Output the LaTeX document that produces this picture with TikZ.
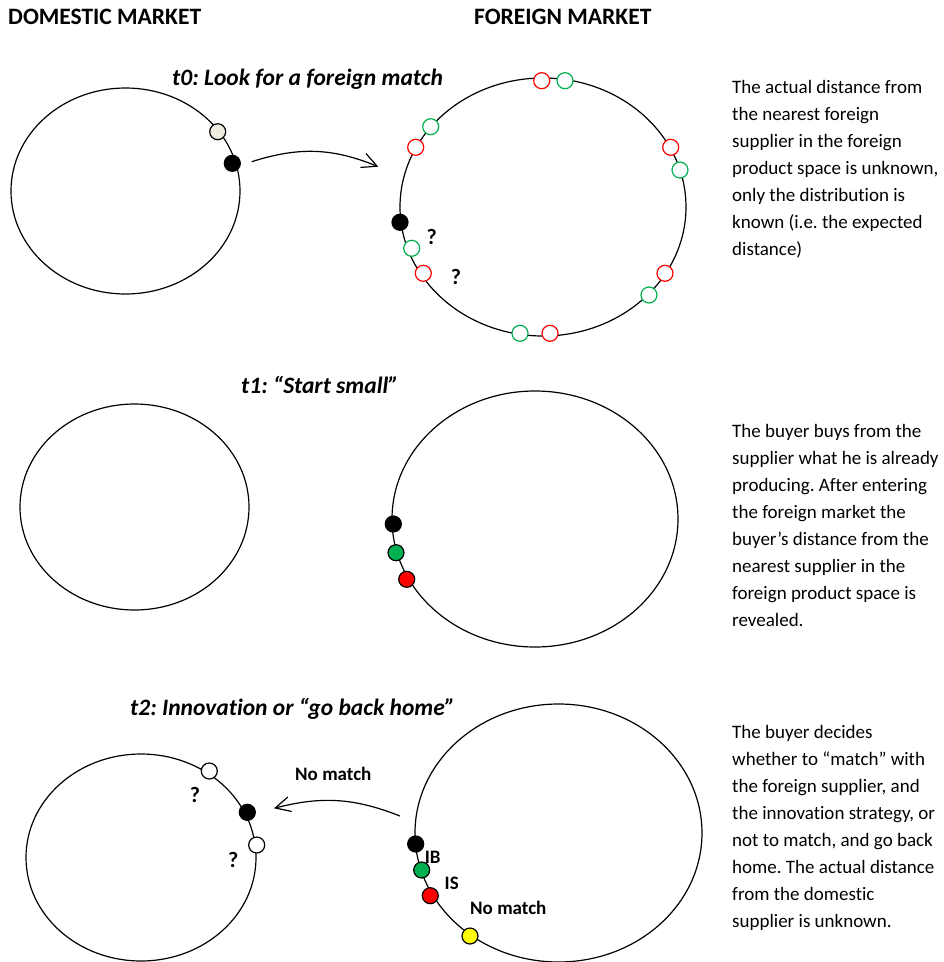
\documentclass[tikz,border=0pt]{standalone}
\usepackage{fontspec}
\setmainfont{Carlito}[Ligatures=NoCommon]
\usetikzlibrary{shapes.geometric,arrows.meta}
\definecolor{dgreen}{HTML}{00B050}
\definecolor{dred}{HTML}{FF0000}
\definecolor{dyellow}{HTML}{FFFF00}
\definecolor{lightdot}{HTML}{EEECE1}
\frenchspacing
\begin{document}
\begin{tikzpicture}[x=1pt,y=-1pt,
  market/.style={draw, line width=1.2pt, ellipse, inner sep=0pt},
  dot/.style={draw, circle, line width=1.2pt, minimum size=16pt, inner sep=0pt},
  hdr/.style={font=\fontsize{23.5}{28}\selectfont\bfseries, inner sep=0pt, anchor=base west},
  steptitle/.style={font=\fontsize{23.5}{28}\selectfont\bfseries\itshape, inner sep=0pt, anchor=base west},
  lbl/.style={font=\fontsize{19}{23}\selectfont\bfseries, inner sep=0pt},
  qmark/.style={font=\fontsize{22}{26}\selectfont\bfseries, inner sep=0pt},
  para/.style={font=\fontsize{19}{27}\selectfont, align=left, inner sep=0pt, anchor=north west},
  conn/.style={line width=1.2pt, -{Straight Barb[length=15pt,width=15pt,line width=1.2pt]}}
]
\useasboundingbox (0,0) rectangle (944,962);

% headers
\node[hdr] (hdom) at (8,24) {DOMESTIC MARKET};
\node[hdr] (hfor) at (474,24) {FOREIGN MARKET};

% t0
\node[steptitle] (t0) at (172,85) {t0: Look for a foreign match};
\node[market, minimum width=229pt, minimum height=206pt] (d0) at (125.5,191) {};
\node[market, minimum width=286pt, minimum height=258pt] (f0) at (543,207) {};
\node[dot, fill=lightdot] (d0a) at (217.7,131.7) {};
\node[dot, fill=black] (d0b) at (232.3,163.3) {};
\node[dot, draw=dred, fill=white] (f0r1) at (541.7,80.7) {};
\node[dot, draw=dgreen, fill=white] (f0g1) at (565,80.7) {};
\node[dot, draw=dgreen, fill=white] (f0g2) at (430.7,126.7) {};
\node[dot, draw=dred, fill=white] (f0r2) at (415.7,147.3) {};
\node[dot, draw=dred, fill=white] (f0r3) at (670.7,147.3) {};
\node[dot, draw=dgreen, fill=white] (f0g3) at (680,170) {};
\node[dot, fill=black] (f0b) at (400,222.3) {};
\node[dot, draw=dgreen, fill=white] (f0g4) at (411.7,248.3) {};
\node[dot, draw=dred, fill=white] (f0r4) at (423.3,273.3) {};
\node[dot, draw=dred, fill=white] (f0r5) at (665,273.3) {};
\node[dot, draw=dgreen, fill=white] (f0g5) at (649,295) {};
\node[dot, draw=dgreen, fill=white] (f0g6) at (520,333.3) {};
\node[dot, draw=dred, fill=white] (f0r6) at (550,333.3) {};
\node[qmark] (q1) at (431.7,236.7) {?};
\node[qmark] (q2) at (456,276.7) {?};
\coordinate (a0s) at (251.7,161.7);
\coordinate (a0e) at (378.3,166.7);
\draw[conn] (a0s) to[bend left=20] (a0e);
\node[para] (p0) at (732,80) {The actual distance from\\the nearest foreign\\supplier in the foreign\\product space is unknown,\\only the distribution is\\known (i.e. the expected\\distance)};

% t1
\node[steptitle] (t1) at (241,393) {t1: “Start small”};
\node[market, minimum width=229pt, minimum height=206pt] (d1) at (134.5,507) {};
\node[market, minimum width=286pt, minimum height=256pt] (f1) at (535,519) {};
\node[dot, fill=black] (f1b) at (393.3,524) {};
\node[dot, fill=dgreen] (f1g) at (396,552.7) {};
\node[dot, fill=dred] (f1r) at (406.7,579.3) {};
\node[para] (p1) at (732,424) {The buyer buys from the\\supplier what he is already\\producing. After entering\\the foreign market the\\buyer’s distance from the\\nearest supplier in the\\foreign product space is\\revealed.};

% t2
\node[steptitle] (t2) at (130,715) {t2: Innovation or “go back home”};
\node[market, minimum width=230pt, minimum height=207pt] (d2) at (141,857.5) {};
\node[market, minimum width=287pt, minimum height=258pt] (f2) at (558.5,833) {};
\node[dot, fill=white] (d2a) at (209.3,771) {};
\node[dot, fill=black] (d2b) at (247.3,812.3) {};
\node[dot, fill=white] (d2c) at (256.7,845) {};
\node[qmark] (q3) at (195,795) {?};
\node[qmark] (q4) at (233.3,860) {?};
\node[dot, fill=black] (f2b) at (415.7,844) {};
\node[dot, fill=dgreen] (f2g) at (421.7,870) {};
\node[dot, fill=dred] (f2r) at (430.3,895.7) {};
\node[dot, fill=dyellow] (f2y) at (470,936) {};
\node[lbl] (lib) at (432.7,857.3) {IB};
\node[lbl] (lis) at (451.7,883.3) {IS};
\node[lbl] (lnm2) at (508.3,908.3) {No match};
\node[lbl] (lnm1) at (333.3,774.3) {No match};
\coordinate (a2s) at (400,816);
\coordinate (a2e) at (274,808.3);
\draw[conn] (a2s) to[bend right=18] (a2e);
\node[para] (p2) at (732,725) {The buyer decides\\whether to “match” with\\the foreign supplier, and\\the innovation strategy, or\\not to match, and go back\\home. The actual distance\\from the domestic\\supplier is unknown.};
\end{tikzpicture}
\end{document}
